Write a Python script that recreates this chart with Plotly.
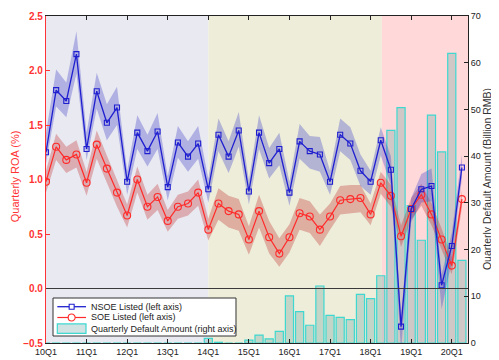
import plotly.graph_objects as go

quarters = ["10Q1","10Q2","10Q3","10Q4","11Q1","11Q2","11Q3","11Q4",
            "12Q1","12Q2","12Q3","12Q4","13Q1","13Q2","13Q3","13Q4",
            "14Q1","14Q2","14Q3","14Q4","15Q1","15Q2","15Q3","15Q4",
            "16Q1","16Q2","16Q3","16Q4","17Q1","17Q2","17Q3","17Q4",
            "18Q1","18Q2","18Q3","18Q4","19Q1","19Q2","19Q3","19Q4",
            "20Q1","20Q2"]
tick_labels = ["10Q1","11Q1","12Q1","13Q1","14Q1","15Q1","16Q1","17Q1","18Q1","19Q1","20Q1"]
right_ticks = [0, 10, 20, 30, 40, 50, 60, 70]

nsoe_roa = [1.25,1.82,1.72,2.15,1.28,1.81,1.52,1.66,0.98,1.43,1.26,1.44,
            0.93,1.34,1.21,1.33,0.91,1.41,1.21,1.45,0.89,1.43,1.15,1.28,
            0.88,1.35,1.26,1.23,0.98,1.41,1.33,1.08,0.98,1.36,1.09,-0.35,
            0.73,0.91,0.94,0.03,0.39,1.11]
nsoe_hi = [0.18,0.19,0.17,0.21,0.15,0.17,0.17,0.19,0.10,0.16,0.15,0.17,
           0.10,0.15,0.14,0.16,0.10,0.15,0.14,0.17,0.10,0.16,0.14,0.15,
           0.10,0.16,0.14,0.16,0.10,0.15,0.15,0.15,0.10,0.12,0.12,0.10,
           0.10,0.14,0.16,0.10,0.12,0.12]
nsoe_lo = [0.10,0.15,0.15,0.18,0.10,0.16,0.16,0.16,0.12,0.15,0.14,0.16,
           0.12,0.14,0.14,0.14,0.12,0.15,0.15,0.15,0.12,0.15,0.14,0.15,
           0.12,0.16,0.16,0.16,0.12,0.15,0.15,0.14,0.12,0.14,0.14,0.22,
           0.12,0.12,0.14,0.22,0.14,0.10]

soe_roa = [0.98,1.30,1.18,1.23,0.97,1.32,1.10,0.88,0.67,1.00,0.75,0.84,
           0.62,0.75,0.78,0.88,0.54,0.78,0.71,0.68,0.45,0.71,0.47,0.32,
           0.47,0.69,0.66,0.54,0.66,0.81,0.82,0.83,0.68,0.97,0.85,0.48,
           0.73,0.86,0.68,0.45,0.21,0.82]
soe_hi = [0.10,0.12,0.12,0.13,0.10,0.13,0.12,0.12,0.10,0.12,0.11,0.12,
          0.10,0.11,0.11,0.12,0.10,0.14,0.14,0.14,0.12,0.15,0.15,0.14,
          0.12,0.14,0.14,0.14,0.12,0.13,0.13,0.12,0.10,0.10,0.10,0.10,
          0.10,0.10,0.10,0.10,0.08,0.08]
soe_lo = [0.10,0.12,0.12,0.12,0.12,0.13,0.13,0.13,0.11,0.12,0.12,0.12,
          0.10,0.11,0.11,0.12,0.10,0.15,0.15,0.15,0.14,0.15,0.15,0.12,
          0.14,0.15,0.15,0.15,0.12,0.13,0.13,0.13,0.10,0.10,0.10,0.10,
          0.10,0.10,0.10,0.10,0.08,0.08]

default_amount = [0,0,0,0,0,0,0,0,0,0,0,0,0,0,0,0,
                  1.0,0.15,0,0,0.6,1.7,0.9,2.5,
                  10.1,6.7,3.8,12.2,5.9,5.5,5.0,10.4,9.5,
                  14.4,45.5,50.4,29.4,22.0,48.8,40.9,62.0,17.7]

series_names = ["NSOE Listed (left axis)", "SOE Listed (left axis)",
                "Quarterly Default Amount (right axis)"]

regions = [(0, 16, "#E9E9F1"), (16, 33.1, "#EDEDD9"), (33.1, 41.6, "#FFD8D9")]

blue = "#1F1FD0"
red = "#FF2A2A"
bar_fill = "rgba(100,160,160,0.3)"
bar_line = "#3ED8D0"

fig = go.Figure()

fig.add_trace(go.Bar(
    x=quarters, y=default_amount, yaxis="y", width=0.8,
    marker=dict(color=bar_fill, line=dict(color=bar_line, width=1.2)),
    name=series_names[2], showlegend=False))

nsoe_up = [v + d for v, d in zip(nsoe_roa, nsoe_hi)]
nsoe_dn = [v - d for v, d in zip(nsoe_roa, nsoe_lo)]
soe_up = [v + d for v, d in zip(soe_roa, soe_hi)]
soe_dn = [v - d for v, d in zip(soe_roa, soe_lo)]

fig.add_trace(go.Scatter(x=quarters + quarters[::-1], y=soe_up + soe_dn[::-1], yaxis="y2",
                         fill="toself", fillcolor="rgba(190,50,50,0.33)", line=dict(width=0),
                         mode="lines", hoverinfo="skip", showlegend=False))
fig.add_trace(go.Scatter(x=quarters + quarters[::-1], y=nsoe_up + nsoe_dn[::-1], yaxis="y2",
                         fill="toself", fillcolor="rgba(60,60,200,0.33)", line=dict(width=0),
                         mode="lines", hoverinfo="skip", showlegend=False))

fig.add_trace(go.Scatter(x=quarters, y=soe_roa, yaxis="y2", mode="lines+markers",
                         line=dict(color=red, width=1.2),
                         marker=dict(symbol="circle-open", size=7, color=red, line=dict(width=1.1)),
                         name=series_names[1], showlegend=False))
fig.add_trace(go.Scatter(x=quarters, y=nsoe_roa, yaxis="y2", mode="lines+markers",
                         line=dict(color=blue, width=1.3),
                         marker=dict(symbol="square-open", size=5, color=blue, line=dict(width=1.1)),
                         name=series_names[0], showlegend=False))

shapes = []
for x0, x1, c in regions:
    shapes.append(dict(type="rect", xref="x", yref="paper", x0=x0, x1=x1, y0=0, y1=1,
                       fillcolor=c, line=dict(width=0), layer="below"))
shapes.append(dict(type="line", xref="paper", yref="y2", x0=0, x1=1, y0=0, y1=0,
                   line=dict(color="#3a3a3a", width=1.2)))

# custom legend box (paper coordinates)
lg_x0, lg_x1, lg_y0, lg_y1 = 0.0166, 0.4502, 0.0214, 0.1376
sx0, sx1, sxc, tx = 0.0268, 0.0948, 0.0608, 0.1026
rows = [0.111, 0.078, 0.0428]
shapes.append(dict(type="rect", xref="paper", yref="paper", x0=lg_x0, x1=lg_x1, y0=lg_y0, y1=lg_y1,
                   fillcolor="white", line=dict(color="#333333", width=1), layer="above"))
shapes.append(dict(type="line", xref="paper", yref="paper", x0=sx0, x1=sx1, y0=rows[0], y1=rows[0],
                   line=dict(color=blue, width=1.3), layer="above"))
shapes.append(dict(type="rect", xref="paper", yref="paper", xsizemode="pixel", ysizemode="pixel",
                   xanchor=sxc, yanchor=rows[0], x0=-2.5, x1=2.5, y0=-2.5, y1=2.5,
                   fillcolor="white", line=dict(color=blue, width=1.1), layer="above"))
shapes.append(dict(type="line", xref="paper", yref="paper", x0=sx0, x1=sx1, y0=rows[1], y1=rows[1],
                   line=dict(color=red, width=1.2), layer="above"))
shapes.append(dict(type="circle", xref="paper", yref="paper", xsizemode="pixel", ysizemode="pixel",
                   xanchor=sxc, yanchor=rows[1], x0=-3.5, x1=3.5, y0=-3.5, y1=3.5,
                   fillcolor="white", line=dict(color=red, width=1.1), layer="above"))
shapes.append(dict(type="rect", xref="paper", yref="paper", x0=sx0, x1=sx1, y0=0.0297, y1=0.0582,
                   fillcolor=bar_fill, line=dict(color=bar_line, width=1.2), layer="above"))

font = "Liberation Sans, Arial, sans-serif"

annotations = [
    dict(text="Quarterly ROA (%)", xref="paper", yref="paper", x=-0.0735, y=0.51,
         textangle=-90, showarrow=False, font=dict(size=11, color="#FF3333"),
         xanchor="center", yanchor="middle"),
    dict(text="Quarterly Default Amount (Billion RMB)", xref="paper", yref="paper",
         x=1.044, y=0.5, textangle=-90, showarrow=False,
         font=dict(size=10.5, color="#333333"), xanchor="center", yanchor="middle"),
]
for name, ry in zip(series_names, rows):
    annotations.append(dict(text=name, xref="paper", yref="paper", x=tx, y=ry,
                            xanchor="left", yanchor="middle", showarrow=False,
                            font=dict(size=9, color="#222222")))

# page body has an 8px default margin; size the figure so the plot area lands where intended
fig.update_layout(
    width=491, height=352,
    margin=dict(l=38, r=31, t=8, b=17),
    paper_bgcolor="white", plot_bgcolor="white",
    font=dict(family=font, color="#222222"),
    shapes=shapes,
    annotations=annotations,
    showlegend=False,
    xaxis=dict(type="category", range=[0, 41.6], tickmode="array", tickvals=tick_labels,
               ticktext=tick_labels, ticks="inside", ticklen=4, tickcolor="#222222",
               showline=True, linecolor="#222222", linewidth=1, mirror="ticks",
               tickfont=dict(size=9, color="#222222",
                             family="Liberation Sans Narrow, Liberation Sans, Arial, sans-serif"),
               showgrid=False, automargin=False),
    yaxis=dict(side="right", range=[0, 70], tickmode="array", tickvals=right_ticks,
               ticktext=[str(v) for v in right_ticks], ticks="inside", ticklen=4,
               ticklabelposition="outside",
               tickcolor="#222222", showline=True, linecolor="#222222", linewidth=1,
               tickfont=dict(size=9, color="#222222"), showgrid=False, zeroline=False,
               automargin=False, ticklabeloverflow="allow"),
    yaxis2=dict(side="left", overlaying="y", range=[-0.5, 2.5], dtick=0.5, tickformat=".1f",
                ticks="inside", ticklen=4, tickcolor="#FF3333",
                showline=True, linecolor="#FF3333", linewidth=1.2,
                tickfont=dict(size=10, color="#FF3333", weight="bold"),
                showgrid=False, zeroline=False, automargin=False, ticklabeloverflow="allow"),
)

fig.write_html("out.html")
